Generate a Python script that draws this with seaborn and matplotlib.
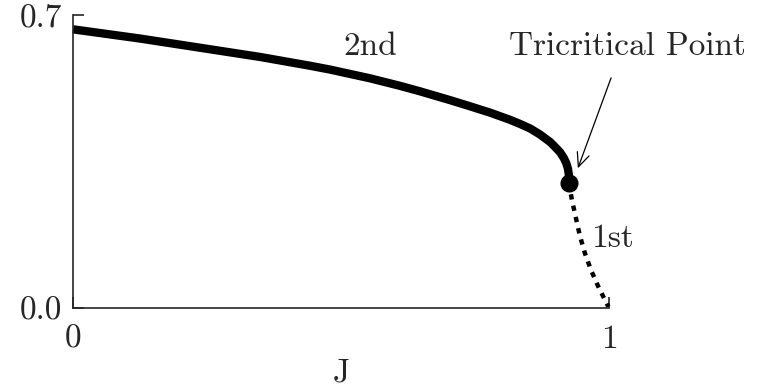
import matplotlib
matplotlib.use("Agg")
import matplotlib.pyplot as plt
import seaborn as sns
import pandas as pd

# Second-order transition line (coupling J vs order parameter)
j_second = [0.0, 0.125, 0.237, 0.349, 0.442, 0.479, 0.554, 0.610, 0.647,
            0.703, 0.741, 0.778, 0.815, 0.834, 0.853, 0.871, 0.890, 0.901,
            0.909, 0.916, 0.9207, 0.9235, 0.9250, 0.9255, 0.9250]
t_second = [0.666, 0.644, 0.622, 0.600, 0.579, 0.570, 0.549, 0.531, 0.518,
            0.497, 0.482, 0.467, 0.450, 0.440, 0.429, 0.415, 0.397, 0.383,
            0.372, 0.358, 0.345, 0.333, 0.320, 0.311, 0.299]

# First-order transition line
j_first = [0.9250, 0.9310, 0.9384, 0.9459, 0.9552, 0.9664, 0.9795, 0.9907, 0.9990]
t_first = [0.299, 0.258, 0.215, 0.172, 0.131, 0.091, 0.053, 0.024, 0.003]

# Tricritical point
j_tc, t_tc = 0.925, 0.299

x_ticks = [0, 1]
x_ticklabels = ["0", "1"]
y_ticks = [0.0, 0.7]
y_ticklabels = ["0.0", "0.7"]

sns.set_style("ticks")
plt.rcParams["font.family"] = ["cmr10", "DejaVu Serif"]
plt.rcParams["axes.unicode_minus"] = False
plt.rcParams["mathtext.fontset"] = "cm"

FS = 24

fig = plt.figure(figsize=(7.61, 3.87), dpi=100)
ax = fig.add_axes([0.0959, 0.204, 0.7043, 0.757])

df2 = pd.DataFrame({"J": j_second, "T": t_second})
df1 = pd.DataFrame({"J": j_first, "T": t_first})

sns.lineplot(data=df2, x="J", y="T", ax=ax, color="black", lw=6,
             sort=False, estimator=None, clip_on=False,
             solid_capstyle="butt", solid_joinstyle="round")
sns.lineplot(data=df1, x="J", y="T", ax=ax, color="black", lw=3.2,
             sort=False, estimator=None, clip_on=False,
             linestyle=(0, (1.2, 1.4)))
ax.plot([j_tc], [t_tc], "o", color="black", ms=12, clip_on=False, zorder=5)

ax.set_xlim(0, 1)
ax.set_ylim(0, 0.7)
ax.set_xticks(x_ticks)
ax.set_xticklabels(x_ticklabels)
ax.set_yticks(y_ticks)
ax.set_yticklabels(y_ticklabels)
ax.tick_params(direction="in", length=8, width=1.2, labelsize=FS, pad=8)
ax.tick_params(axis="x", pad=12)
ax.set_ylabel("")
ax.set_xlabel("J", fontsize=FS, va="center")
ax.xaxis.set_label_coords(0.5, -0.222)
for side in ["top", "right"]:
    ax.spines[side].set_visible(False)
for side in ["left", "bottom"]:
    ax.spines[side].set_linewidth(1.2)

ax.text(0.554, 0.624, "2nd", fontsize=FS, ha="center", va="center")
ax.text(1.006, 0.167, "1st", fontsize=FS, ha="center", va="center",
        clip_on=False)
ax.text(1.035, 0.624, "Tricritical Point", fontsize=FS, ha="center",
        va="center", clip_on=False)
ax.annotate("", xy=(0.942, 0.334), xytext=(1.004, 0.550),
            annotation_clip=False,
            arrowprops=dict(arrowstyle="->,head_length=1.0,head_width=0.45",
                            color="black", lw=0.9, shrinkA=0, shrinkB=0))

fig.savefig("out.png", dpi=100)
